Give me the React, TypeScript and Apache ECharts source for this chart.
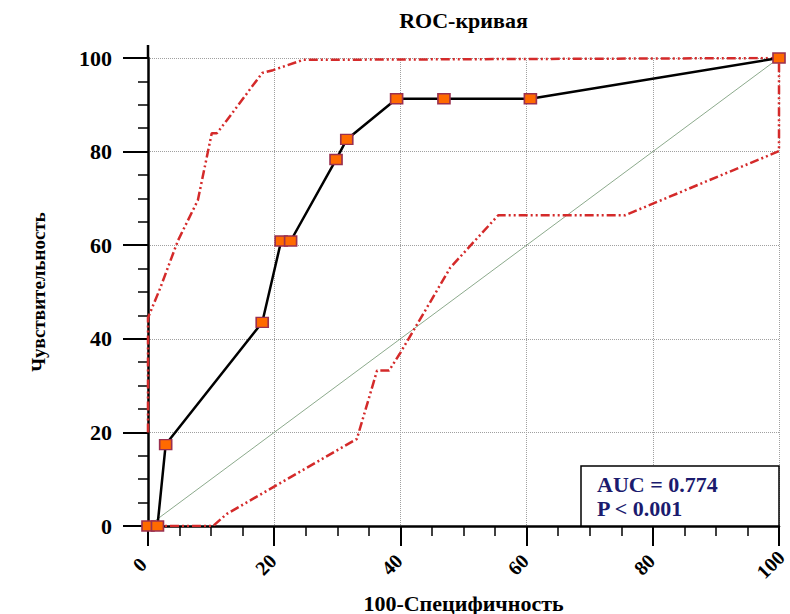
import React, { useEffect, useRef } from 'react';
import * as echarts from 'echarts';

const titleText = 'ROC-кривая';
const xName = '100-Специфичность';
const yName = 'Чувствительность';

const rocX = [0, 1.5, 2.8, 18.1, 21.1, 22.6, 29.8, 31.5, 39.4, 46.9, 60.6, 100];
const rocY = [0, 0, 17.4, 43.5, 60.9, 60.9, 78.3, 82.6, 91.3, 91.3, 91.3, 100];

const upperX = [0, 0, 1.9, 4.75, 7.9, 10.1, 10.9, 12.5, 18.1, 19.8, 24.6, 100];
const upperY = [20, 44.5, 50.7, 61, 69.6, 83.9, 83.9, 86.7, 96.8, 97.4, 99.6, 100];

const lowerX = [0, 10.3, 12.5, 33.1, 36.3, 38.2, 39.9, 44.7, 47.9, 55.5, 75.6, 100, 100];
const lowerY = [0, 0, 2.6, 18.6, 33.2, 33.2, 36.8, 47.8, 55.2, 66.4, 66.4, 80.1, 100];

const diagX = [0, 100];
const diagY = [0, 100];

const aucText = 'AUC = 0.774';
const pText = 'P < 0.001';

const FONT = '"Liberation Serif", "DejaVu Serif", serif';
const GL = 148, GT = 58, GR = 779, GB = 526;
const W = 790, H = 614;

const pairs = (xs: number[], ys: number[]) => xs.map((x, i) => [x, ys[i]]);

export default function App() {
  const ref = useRef<HTMLDivElement>(null);
  useEffect(() => {
    if (!ref.current) return;
    const chart = echarts.init(ref.current, undefined, { renderer: 'svg' });
    const axisCommon = {
      type: 'value',
      min: 0,
      max: 100,
      interval: 20,
      nameLocation: 'middle',
      nameTextStyle: { fontFamily: FONT, fontWeight: 'bold', fontSize: 22, color: '#000' },
      axisLine: { show: true, lineStyle: { color: '#000', width: 2.5 } },
      axisTick: { show: true, length: 22, lineStyle: { color: '#000', width: 2 } },
      minorTick: { show: true, splitNumber: 4, length: 10, lineStyle: { color: '#000', width: 1.5 } },
      splitLine: { show: true, lineStyle: { color: '#a0a0a0', width: 1, type: 'dotted' } },
      minorSplitLine: { show: false },
    };
    const ciStyle = { color: '#d42a2a', width: 2.5, type: [9, 3, 2, 3, 2, 3] };
    chart.setOption({
      animation: false,
      backgroundColor: '#fff',
      grid: {
        left: GL,
        top: GT,
        right: W - GR,
        bottom: H - GB,
        containLabel: false,
        outerBoundsMode: 'none',
      },
      xAxis: {
        ...axisCommon,
        name: xName,
        nameGap: 66,
        axisTick: { ...axisCommon.axisTick, length: 20 },
        axisLabel: {
          rotate: 45,
          align: 'center',
          verticalAlign: 'middle',
          margin: 30,
          padding: [0, 24, 0, 0],
          fontFamily: FONT,
          fontWeight: 'bold',
          fontSize: 20,
          color: '#000',
        },
      },
      yAxis: {
        ...axisCommon,
        name: yName,
        nameGap: 100,
        nameTextStyle: { ...axisCommon.nameTextStyle, fontSize: 19 },
        axisTick: { ...axisCommon.axisTick, length: 25 },
        axisLabel: {
          margin: 36,
          fontFamily: FONT,
          fontWeight: 'bold',
          fontSize: 22,
          color: '#000',
        },
      },
      series: [
        {
          type: 'line',
          data: pairs(diagX, diagY),
          symbol: 'none',
          lineStyle: { color: '#6f946f', width: 0.8 },
          z: 1,
        },
        {
          type: 'line',
          data: pairs(upperX, upperY),
          symbol: 'none',
          lineStyle: ciStyle,
          z: 2,
        },
        {
          type: 'line',
          data: pairs(lowerX, lowerY),
          symbol: 'none',
          lineStyle: ciStyle,
          z: 2,
        },
        {
          type: 'line',
          data: pairs(rocX, rocY),
          symbol: 'rect',
          symbolSize: [12, 10],
          lineStyle: { color: '#000', width: 2.5 },
          itemStyle: { color: '#ff6a00', borderColor: '#9a3050', borderWidth: 1.5 },
          z: 5,
        },
      ],
      graphic: [
        {
          type: 'text',
          x: (GL + GR) / 2,
          y: 20,
          style: {
            text: titleText,
            fontFamily: FONT,
            fontWeight: 'bold',
            fontSize: 22,
            fill: '#000',
            textAlign: 'center',
            textVerticalAlign: 'middle',
          },
        },
        {
          type: 'line',
          shape: { x1: GL, y1: 45, x2: GL, y2: GT },
          style: { stroke: '#000', lineWidth: 2.5 },
        },
        {
          type: 'rect',
          shape: { x: 581, y: 466, width: GR - 581, height: GB - 466 },
          style: { fill: '#fff', stroke: '#000', lineWidth: 1.5 },
          z: 50,
        },
        {
          type: 'text',
          x: 597,
          y: 484,
          z: 51,
          style: {
            text: aucText,
            fontFamily: FONT,
            fontWeight: 'bold',
            fontSize: 22,
            fill: '#1b1b6e',
            textVerticalAlign: 'middle',
          },
        },
        {
          type: 'text',
          x: 597,
          y: 508,
          z: 51,
          style: {
            text: pText,
            fontFamily: FONT,
            fontWeight: 'bold',
            fontSize: 22,
            fill: '#1b1b6e',
            textVerticalAlign: 'middle',
          },
        },
      ],
    });
    return () => chart.dispose();
  }, []);
  return (
    <div
      ref={ref}
      style={{ position: 'fixed', left: 0, top: 0, width: W, height: H, background: '#fff' }}
    />
  );
}
